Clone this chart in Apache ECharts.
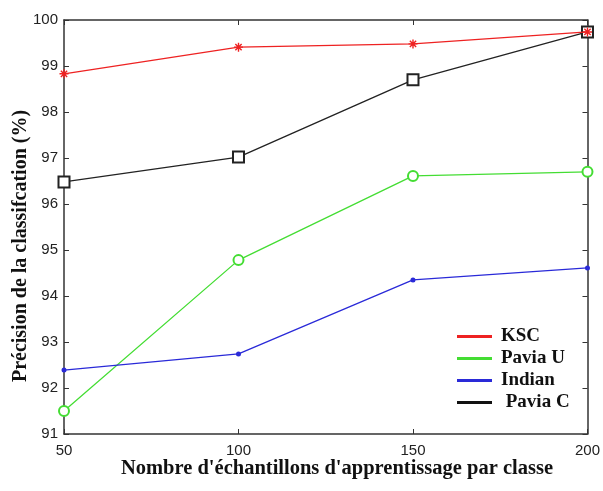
<!DOCTYPE html>
<html><head><meta charset="utf-8">
<script src="https://cdn.jsdelivr.net/npm/echarts@6/dist/echarts.min.js"></script>
<style>html,body{margin:0;padding:0;background:#fff}#c{width:603px;height:491px}</style>
</head><body><div id="c"></div>
<script>
const xValues = [50, 100, 150, 200];
const ksc = [98.83, 99.41, 99.48, 99.74];
const paviaU = [91.50, 94.78, 96.61, 96.70];
const indian = [92.39, 92.74, 94.35, 94.61];
const paviaC = [96.48, 97.02, 98.70, 99.74];
const seriesNames = ['KSC', 'Pavia U', 'Indian', 'Pavia C'];
const colors = ['#ee2222', '#44dd33', '#2a2ad8', '#111111'];

const pair = arr => xValues.map((x, i) => [x, arr[i]]);
const chart = echarts.init(document.getElementById('c'));
const tickFont = {fontFamily: 'Liberation Sans, Arial', fontSize: 15, color: '#222'};
const serif = 'Liberation Serif, Times New Roman';
const asterisk = 'path://M0,5 L10,5 M5,0 L5,10 M1.5,1.5 L8.5,8.5 M8.5,1.5 L1.5,8.5';
const axisCommon = {
  axisLine: {lineStyle: {color: '#333', width: 1.5}},
  axisTick: {inside: true, length: 5, lineStyle: {color: '#333'}},
  splitLine: {show: false}
};

chart.setOption({
  backgroundColor: '#fff',
  animation: false,
  grid: {left: 64, right: 13, top: 20, bottom: 57, containLabel: false},
  xAxis: [Object.assign({
    type: 'value', min: 50, max: 200, interval: 50,
    axisLabel: Object.assign({margin: 9}, tickFont)
  }, axisCommon), Object.assign({
    type: 'value', position: 'top', min: 50, max: 200, interval: 50,
    axisLabel: {show: false}
  }, axisCommon)],
  yAxis: [Object.assign({
    type: 'value', min: 91, max: 100, interval: 1,
    axisLabel: Object.assign({margin: 6}, tickFont)
  }, axisCommon), Object.assign({
    type: 'value', position: 'right', min: 91, max: 100, interval: 1,
    axisLabel: {show: false}
  }, axisCommon)],
  graphic: [
    {type: 'text', x: 337, y: 469, style: {text: "Nombre d'échantillons d'apprentissage par classe",
      font: 'bold 20.5px ' + serif, fill: '#111', textAlign: 'center', textVerticalAlign: 'middle'}},
    {type: 'text', rotation: Math.PI / 2, x: 21, y: 246,
      style: {text: 'Précision de la classifcation (%)', font: 'bold 20px ' + serif, fill: '#111',
      textAlign: 'center', textVerticalAlign: 'middle'}}
  ],
  legend: {
    orient: 'vertical', left: 452, top: 322, itemGap: 3,
    itemWidth: 35, itemHeight: 3, icon: 'rect',
    textStyle: {fontFamily: serif, fontSize: 19, fontWeight: 'bold', color: '#111', padding: [0, 0, 0, 4]},
    formatter: n => n === 'Pavia C' ? ' ' + n : n,
    data: seriesNames.map((n, i) => ({name: n, itemStyle: {color: colors[i], borderWidth: 0}}))
  },
  series: [
    {name: 'KSC', type: 'line', data: pair(ksc), color: colors[0],
     lineStyle: {width: 1.3, color: colors[0]}, symbol: asterisk, symbolSize: 9,
     itemStyle: {color: 'none', borderColor: colors[0], borderWidth: 1.4}, z: 5},
    {name: 'Pavia U', type: 'line', data: pair(paviaU), color: colors[1],
     lineStyle: {width: 1.3, color: colors[1]}, symbol: 'emptyCircle', symbolSize: 10,
     itemStyle: {color: colors[1], borderWidth: 1.3}},
    {name: 'Indian', type: 'line', data: pair(indian), color: colors[2],
     lineStyle: {width: 1.3, color: colors[2]}, symbol: 'circle', symbolSize: 5,
     itemStyle: {color: colors[2]}},
    {name: 'Pavia C', type: 'line', data: pair(paviaC), color: colors[3],
     lineStyle: {width: 1.3, color: '#222'}, symbol: 'emptyRect', symbolSize: 11,
     itemStyle: {color: '#222', borderWidth: 1.3}}
  ]
});
</script></body></html>
